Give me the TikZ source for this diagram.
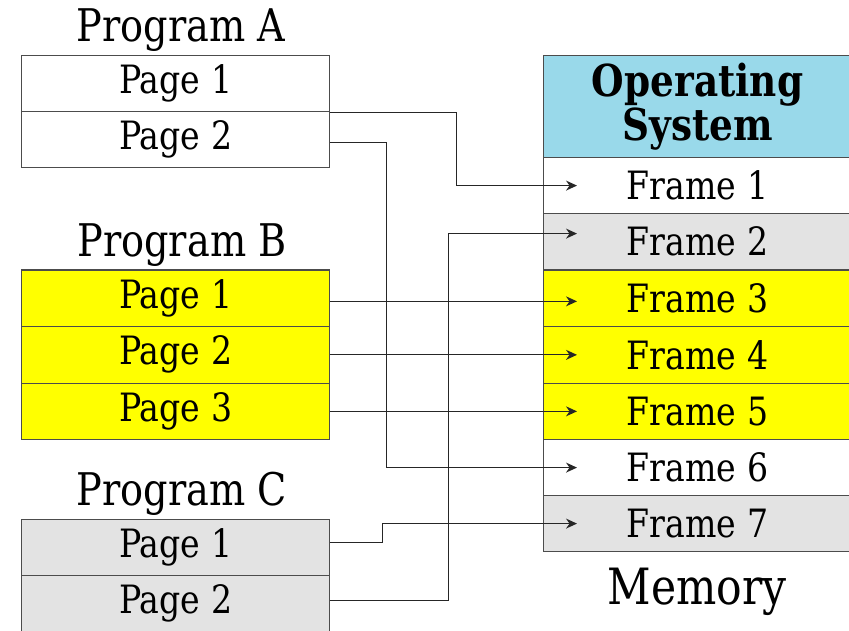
\documentclass[tikz,border=0pt]{standalone}
\usepackage{fontspec}
\setmainfont[FakeStretch=0.85]{DejaVu Serif}
\usetikzlibrary{arrows.meta}
\definecolor{osblue}{RGB}{153,217,234}
\definecolor{pgray}{RGB}{227,227,227}
\definecolor{pyellow}{RGB}{255,255,0}
\begin{document}
\begin{tikzpicture}[x=1pt,y=-1pt,
  cell/.style={draw=black!70, line width=1.2pt, minimum width=308pt, inner sep=0pt,
    anchor=north west, font=\fontsize{39}{42}\selectfont},
  title/.style={anchor=base, inner sep=0pt, font=\fontsize{45}{48}\selectfont},
  conn/.style={draw=black!85, line width=1.2pt, -{Stealth[length=11pt,width=10pt]}}]
\useasboundingbox[fill=white] (0,0) rectangle (849,631);
% Program A
\node[title] (ta) at (181,42) {Program A};
\node[cell, fill=white, minimum height=56pt] (a1) at (21,55) {Page 1};
\node[cell, fill=white, minimum height=56pt] (a2) at (21,111) {Page 2};
% Program B
\node[title] (tb) at (182,257) {Program B};
\node[cell, fill=pyellow, minimum height=56.5pt] (b1) at (21,269.5) {Page 1};
\node[cell, fill=pyellow, minimum height=56.5pt] (b2) at (21,326) {Page 2};
\node[cell, fill=pyellow, minimum height=56.5pt] (b3) at (21,382.5) {Page 3};
% Program C
\node[title] (tc) at (182,505) {Program C};
\node[cell, fill=pgray, minimum height=56pt] (c1) at (21,519) {Page 1};
\node[cell, fill=pgray, minimum height=56pt] (c2) at (21,575) {Page 2};
% Memory
\node[cell, fill=osblue, minimum height=102pt, align=center,
  font=\bfseries\fontsize{44}{34}\selectfont] (os) at (543,55) {Operating\\System};
\node[cell, fill=white, minimum height=56pt] (f1) at (543,157) {Frame 1};
\node[cell, fill=pgray, minimum height=56pt] (f2) at (543,213) {Frame 2};
\node[cell, fill=pyellow, minimum height=56.5pt] (f3) at (543,269.5) {Frame 3};
\node[cell, fill=pyellow, minimum height=56.5pt] (f4) at (543,326) {Frame 4};
\node[cell, fill=pyellow, minimum height=56.5pt] (f5) at (543,382.5) {Frame 5};
\node[cell, fill=white, minimum height=56pt] (f6) at (543,439) {Frame 6};
\node[cell, fill=pgray, minimum height=56pt] (f7) at (543,495) {Frame 7};
\node[title, font=\fontsize{50}{54}\selectfont] (tm) at (697,604) {Memory};
% connectors
\draw[conn] (a1.south east) -- ++(126,0) |- ([xshift=34pt]f1.west);
\draw[conn] ([yshift=-3pt]a2.east) -- ++(56,0) |- ([xshift=34pt]f6.west);
\draw[conn] ([yshift=-3pt]b1.east) -- ([xshift=34pt,yshift=-3pt]f3.west);
\draw[conn] (b2.east) -- ([xshift=34pt]f4.west);
\draw[conn] (b3.east) -- ([xshift=34pt]f5.west);
\draw[conn] ([yshift=5pt]c1.east) -- ++(52,0) |- ([xshift=34pt]f7.west);
\draw[conn] ([yshift=3pt]c2.east) -- ++(118,0) |- ([xshift=34pt,yshift=8pt]f2.west);
\end{tikzpicture}
\end{document}
